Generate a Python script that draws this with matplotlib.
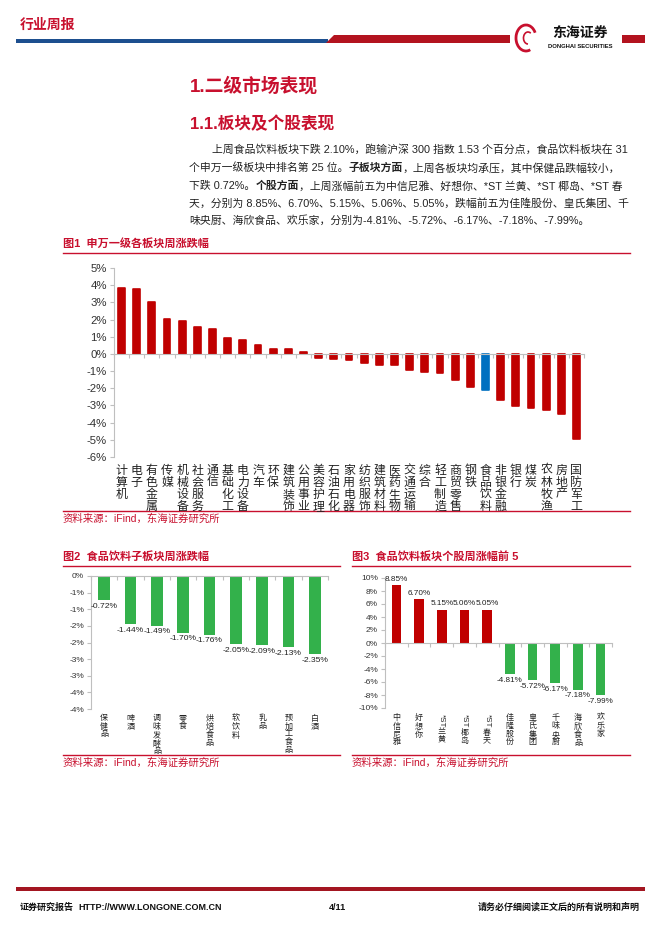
import matplotlib
matplotlib.use("Agg")
import matplotlib.pyplot as plt
from matplotlib.patches import Polygon, Rectangle, Arc

plt.rcParams["font.family"] = ["Liberation Sans", "Noto Sans CJK SC", "DejaVu Sans"]
plt.rcParams["axes.unicode_minus"] = False

# ---- data -------------------------------------------------------------
SECTORS = [
    "计算机", "电子", "有色金属", "传媒", "机械设备", "社会服务", "通信", "基础化工",
    "电力设备", "汽车", "环保", "建筑装饰", "公用事业", "美容护理", "石油石化", "家用电器",
    "纺织服饰", "建筑材料", "医药生物", "交通运输", "综合", "轻工制造", "商贸零售", "钢铁",
    "食品饮料", "非银金融", "银行", "煤炭", "农林牧渔", "房地产", "国防军工",
]
SECTOR_CHG = [
    3.86, 3.80, 3.04, 2.04, 1.92, 1.57, 1.45, 0.92, 0.80, 0.51, 0.27, 0.27, 0.12,
    -0.23, -0.27, -0.37, -0.55, -0.67, -0.67, -0.96, -1.04, -1.14, -1.49, -1.90,
    -2.10, -2.66, -3.05, -3.13, -3.28, -3.52, -4.93,
]
SECTOR_YTICKS = [5, 4, 3, 2, 1, 0, -1, -2, -3, -4, -5, -6]

SUB_SECTORS = ["保健品", "啤酒", "调味发酵品", "零食", "烘焙食品", "软饮料", "乳品", "预加工食品", "白酒"]
SUB_CHG = [-0.72, -1.44, -1.49, -1.70, -1.76, -2.05, -2.09, -2.13, -2.35]
SUB_YTICKS = [0, -0.5, -1.0, -1.5, -2.0, -2.5, -3.0, -3.5, -4.0]
SUB_YLABELS = ["0%", "-1%", "-1%", "-2%", "-2%", "-3%", "-3%", "-4%", "-4%"]

STOCKS = ["中信尼雅", "好想你", "*ST兰黄", "*ST椰岛", "*ST春天", "佳隆股份", "皇氏集团", "千味央厨", "海欣食品", "欢乐家"]
STOCK_CHG = [8.85, 6.70, 5.15, 5.06, 5.05, -4.81, -5.72, -6.17, -7.18, -7.99]
STOCK_YTICKS = [10, 8, 6, 4, 2, 0, -2, -4, -6, -8, -10]

PARAGRAPH = [
    [("上周食品饮料板块下跌 2.10%，跑输沪深 300 指数 1.53 个百分点，食品饮料板块在 31", False)],
    [("个申万一级板块中排名第 25 位。", False), ("子板块方面", True),
     ("，上周各板块均承压，其中保健品跌幅较小，", False)],
    [("下跌 0.72%。", False), ("个股方面", True),
     ("，上周涨幅前五为中信尼雅、好想你、*ST 兰黄、*ST 椰岛、*ST 春", False)],
    [("天，分别为 8.85%、6.70%、5.15%、5.06%、5.05%，跌幅前五为佳隆股份、皇氏集团、千", False)],
    [("味央厨、海欣食品、欢乐家，分别为-4.81%、-5.72%、-6.17%、-7.18%、-7.99%。", False)],
]

SOURCE = "资料来源：iFind，东海证券研究所"

# ---- styles -----------------------------------------------------------
RED = "#c00000"
HEAD_RED = "#c8102e"
GREEN = "#33b14b"
BLUE = "#0070c0"
NAVY = "#1d4f8f"
GREY = "#bfbfbf"
TXT = "#222222"

W, H = 662, 936


def rect(x0, y0, x1, y1):
    return [x0 / W, 1 - y1 / H, (x1 - x0) / W, (y1 - y0) / H]


fig = plt.figure(figsize=(W / 100, H / 100), dpi=100)
bg = fig.add_axes([0, 0, 1, 1])
bg.set_xlim(0, W)
bg.set_ylim(H, 0)
bg.axis("off")
renderer = fig.canvas.get_renderer()

# header
bg.text(20, 25, "行业周报", color=HEAD_RED, fontsize=10, fontweight="bold", va="center")
bg.add_patch(Rectangle((16, 38.5), 312, 4.5, color=NAVY, lw=0))
bg.add_patch(Polygon([(326, 43), (334, 35), (510, 35), (510, 43)], closed=True, color="#b3131f", lw=0))
bg.add_patch(Rectangle((622, 35), 23, 8, color="#b3131f", lw=0))
bg.add_patch(Arc((526, 38), 20, 26, theta1=70, theta2=330, color="#c8102e", lw=2))
bg.add_patch(Arc((528, 38), 9, 12, theta1=90, theta2=300, color="#c8102e", lw=1.2))
bg.text(580, 33, "东海证券", fontsize=10, fontweight="bold", color="#111111", ha="center", va="center")
bg.text(580, 46, "DONGHAI SECURITIES", fontsize=4.2, fontweight="bold", color="#111111", ha="center", va="center")

# headings
bg.text(190, 86, "1.二级市场表现", color=HEAD_RED, fontsize=13.5, fontweight="bold", va="center")
bg.text(190, 124, "1.1.板块及个股表现", color=HEAD_RED, fontsize=12, fontweight="bold", va="center")


def draw_runs(x, y, runs, size):
    for text, bold in runs:
        t = bg.text(x, y, text, fontsize=size, color=TXT, va="center", ha="left",
                    fontweight="bold" if bold else "normal")
        x += t.get_window_extent(renderer).width


line_y = [150, 168, 186, 203, 220]
for i, runs in enumerate(PARAGRAPH):
    draw_runs(212 if i == 0 else 189, line_y[i], runs, 7.8)


def fig_frame(x0, x1, title_y, top_line, bottom_line, title):
    bg.text(x0, title_y, title, color=HEAD_RED, fontsize=8, fontweight="bold", va="center")
    bg.plot([x0, x1], [top_line, top_line], color=HEAD_RED, lw=1)
    bg.plot([x0, x1], [bottom_line, bottom_line], color=HEAD_RED, lw=1)
    bg.text(x0, bottom_line + 8, SOURCE, color=HEAD_RED, fontsize=7.5, va="center")


fig_frame(63, 630, 243, 253, 511, "图1  申万一级各板块周涨跌幅")
fig_frame(63, 340, 556, 566, 755, "图2  食品饮料子板块周涨跌幅")
fig_frame(352, 630, 556, 566, 755, "图3  食品饮料板块个股周涨幅前 5")


def style_axes(ax, ticks, labels, size):
    ax.set_facecolor("none")
    for s in ("top", "right"):
        ax.spines[s].set_visible(False)
    ax.spines["left"].set_color(GREY)
    ax.spines["bottom"].set_color(GREY)
    ax.spines["bottom"].set_position(("data", 0))
    ax.set_yticks(ticks)
    ax.set_yticklabels(labels, fontsize=size, color="#333333")
    ax.tick_params(axis="y", length=3, color=GREY, pad=2)
    ax.tick_params(axis="x", length=3, color=GREY, direction="out", labelbottom=False)


def vertical_label(ax, x, y, text, size, gap_px):
    """East Asian vertical label: CJK stacked upright, a latin prefix turned sideways."""
    offset = gap_px * 0.72
    if text.startswith("*ST"):
        t = ax.annotate("*ST", (x, y), xytext=(0, -offset), textcoords="offset points",
                        rotation=-90, ha="center", va="top", fontsize=size, color=TXT,
                        annotation_clip=False)
        offset += t.get_window_extent(renderer).height * 0.72 + 1
        text = text[3:]
    ax.annotate("\n".join(text), (x, y), xytext=(0, -offset), textcoords="offset points",
                ha="center", va="top", fontsize=size, color=TXT, linespacing=1.1,
                annotation_clip=False)


# figure 1
ax1 = fig.add_axes(rect(114, 268, 584, 457))
colors1 = [BLUE if c == "食品饮料" else RED for c in SECTORS]
x1 = range(len(SECTORS))
ax1.bar(x1, SECTOR_CHG, width=0.45, color=colors1, edgecolor=colors1, linewidth=1.2, joinstyle="round")
ax1.set_xlim(-0.5, len(SECTORS) - 0.5)
ax1.set_ylim(-6, 5)
style_axes(ax1, SECTOR_YTICKS, [f"{v}%" for v in SECTOR_YTICKS], 8.2)
ax1.set_xticks([i - 0.5 for i in range(len(SECTORS) + 1)])
for i, name in enumerate(SECTORS):
    ax1.text(i, -6.45, "\n".join(name), ha="center", va="top", fontsize=8.6,
             color=TXT, linespacing=1.0, clip_on=False)

# figure 2
ax2 = fig.add_axes(rect(91, 576, 328, 709))
x2 = range(len(SUB_SECTORS))
ax2.bar(x2, SUB_CHG, width=0.45, color=GREEN)
ax2.set_xlim(-0.5, len(SUB_SECTORS) - 0.5)
ax2.set_ylim(-4, 0)
style_axes(ax2, SUB_YTICKS, SUB_YLABELS, 6)
ax2.set_xticks([i - 0.5 for i in range(len(SUB_SECTORS) + 1)])
for i, v in enumerate(SUB_CHG):
    ax2.annotate(f"{v:.2f}%", (i, v), xytext=(0, -2), textcoords="offset points",
                 ha="center", va="top", fontsize=6.1, color=TXT)
    vertical_label(ax2, i, -4, SUB_SECTORS[i], 5.8, 6)

# figure 3
ax3 = fig.add_axes(rect(385, 578, 612, 708))
x3 = range(len(STOCKS))
colors3 = [RED if v > 0 else GREEN for v in STOCK_CHG]
ax3.bar(x3, STOCK_CHG, width=0.42, color=colors3)
ax3.set_xlim(-0.5, len(STOCKS) - 0.5)
ax3.set_ylim(-10, 10)
style_axes(ax3, STOCK_YTICKS, [f"{v}%" for v in STOCK_YTICKS], 6)
ax3.set_xticks([i - 0.5 for i in range(len(STOCKS) + 1)])
for i, v in enumerate(STOCK_CHG):
    off = 2 if v > 0 else -2
    ax3.annotate(f"{v:.2f}%", (i, v), xytext=(0, off), textcoords="offset points",
                 ha="center", va="bottom" if v > 0 else "top", fontsize=5.9, color=TXT)
    vertical_label(ax3, i, -10, STOCKS[i], 5.8, 6)

# footer
bg.add_patch(Rectangle((16, 887), 629, 4, color="#a31621", lw=0))
bg.text(20, 907, "证券研究报告", fontsize=6.5, fontweight="bold", color="#111111", va="center")
bg.text(78, 907, "HTTP://WWW.LONGONE.COM.CN", fontsize=6.5, fontweight="bold", color="#111111", va="center")
bg.text(337, 907, "4/11", fontsize=6.5, fontweight="bold", color="#111111", va="center", ha="center")
bg.text(640, 907, "请务必仔细阅读正文后的所有说明和声明", fontsize=6.5, fontweight="bold",
        color="#111111", va="center", ha="right")

fig.savefig("out.png", dpi=100)
